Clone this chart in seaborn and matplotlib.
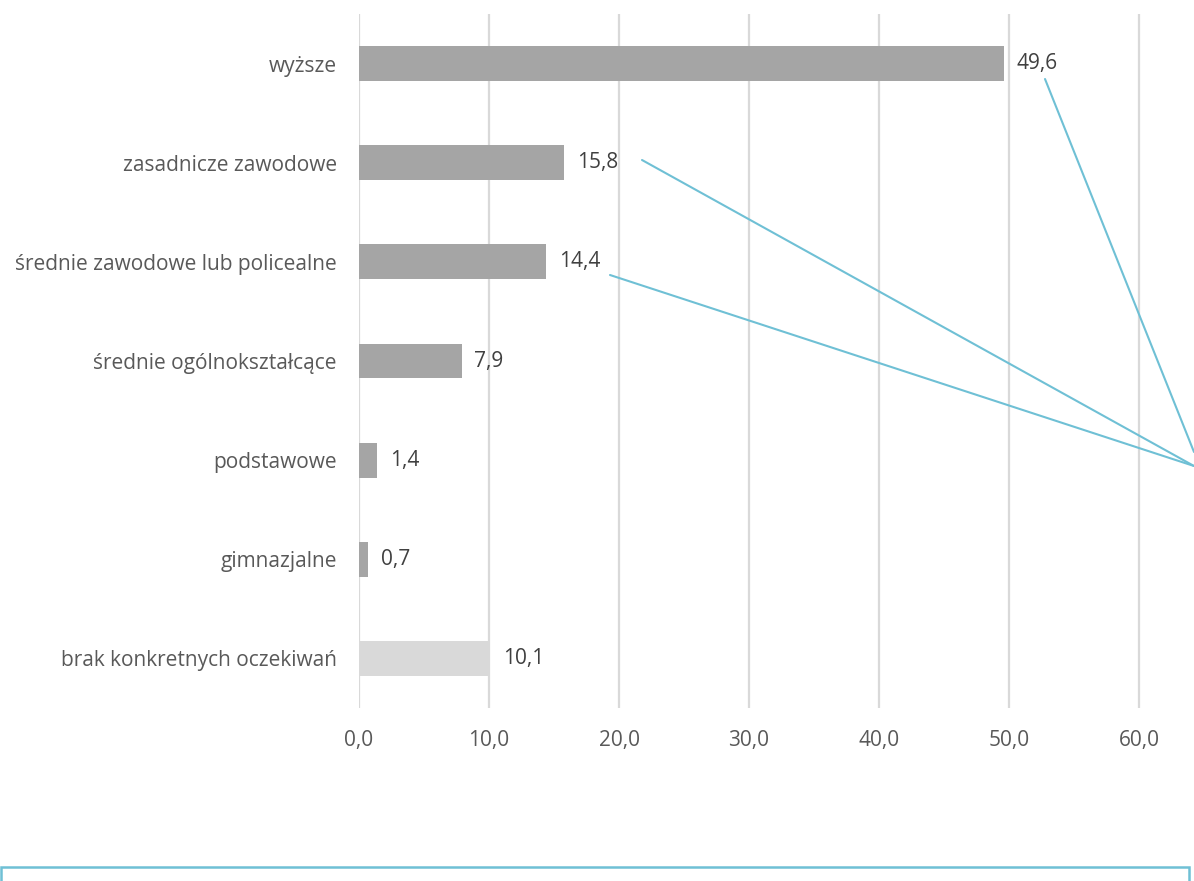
import matplotlib
matplotlib.use("Agg")
import matplotlib.pyplot as plt
from matplotlib.lines import Line2D
from matplotlib.patches import Rectangle
import seaborn as sns
import pandas as pd

# Oczekiwane wykształcenie (%)
categories = [
    "wyższe",
    "zasadnicze zawodowe",
    "średnie zawodowe lub policealne",
    "średnie ogólnokształcące",
    "podstawowe",
    "gimnazjalne",
    "brak konkretnych oczekiwań",
]
values = [49.6, 15.8, 14.4, 7.9, 1.4, 0.7, 10.1]
bar_colors = ["#A5A5A5"] * 6 + ["#D9D9D9"]
x_ticks = [0, 10, 20, 30, 40, 50, 60]

sns.set_theme(style="white")
plt.rcParams["font.family"] = ["Open Sans", "DejaVu Sans"]

df = pd.DataFrame({"kategoria": categories, "wartosc": values})

W, H = 1194, 881
fig = plt.figure(figsize=(W / 100, H / 100), dpi=100)
ax = fig.add_axes([359 / W, 1 - 708 / H, (W - 359) / W, (708 - 14) / H])

sns.barplot(data=df, x="wartosc", y="kategoria", hue="kategoria",
            palette=bar_colors, legend=False, width=0.353, ax=ax,
            saturation=1, linewidth=0, zorder=3)

ax.set_xlim(0, (W - 359) / 13.0)
ax.set_ylim(6.5, -0.5)
ax.set_xticks(x_ticks)
ax.set_xticklabels([f"{t:.1f}".replace(".", ",") for t in x_ticks],
                   fontsize=15, color="#595959")
ax.tick_params(axis="x", length=0, pad=16)
ax.tick_params(axis="y", length=0, pad=16, labelsize=15, labelcolor="#595959")
ax.set_xlabel("")
ax.set_ylabel("")
ax.grid(axis="x", color="#D9D9D9", linewidth=1.6, zorder=0)
ax.grid(axis="y", visible=False)
for s in ax.spines.values():
    s.set_visible(False)

for i, v in enumerate(values):
    ax.annotate(f"{v:.1f}".replace(".", ","), xy=(v, i), xytext=(9, 0),
                textcoords="offset points", va="center", ha="left",
                fontsize=15, color="#404040")

# linie odniesienia prowadzące do objaśnienia poza wykresem
blue = "#6FC0D5"
leaders = [((1045, 79), (1194, 452)),
           ((642, 160), (1194, 466)),
           ((610, 275), (1194, 466))]
for (x0, y0), (x1, y1) in leaders:
    fig.add_artist(Line2D([x0 / W, x1 / W], [1 - y0 / H, 1 - y1 / H],
                          color=blue, linewidth=1.5,
                          transform=fig.transFigure))

# ramka pola opisu u dołu
fig.add_artist(Rectangle((0.5 / W, -0.1), (1188.5 - 0.5) / W,
                         0.1 + 1 - 866.5 / H, transform=fig.transFigure,
                         fill=False, edgecolor=blue, linewidth=1.8))

fig.savefig("out.png", dpi=100)
